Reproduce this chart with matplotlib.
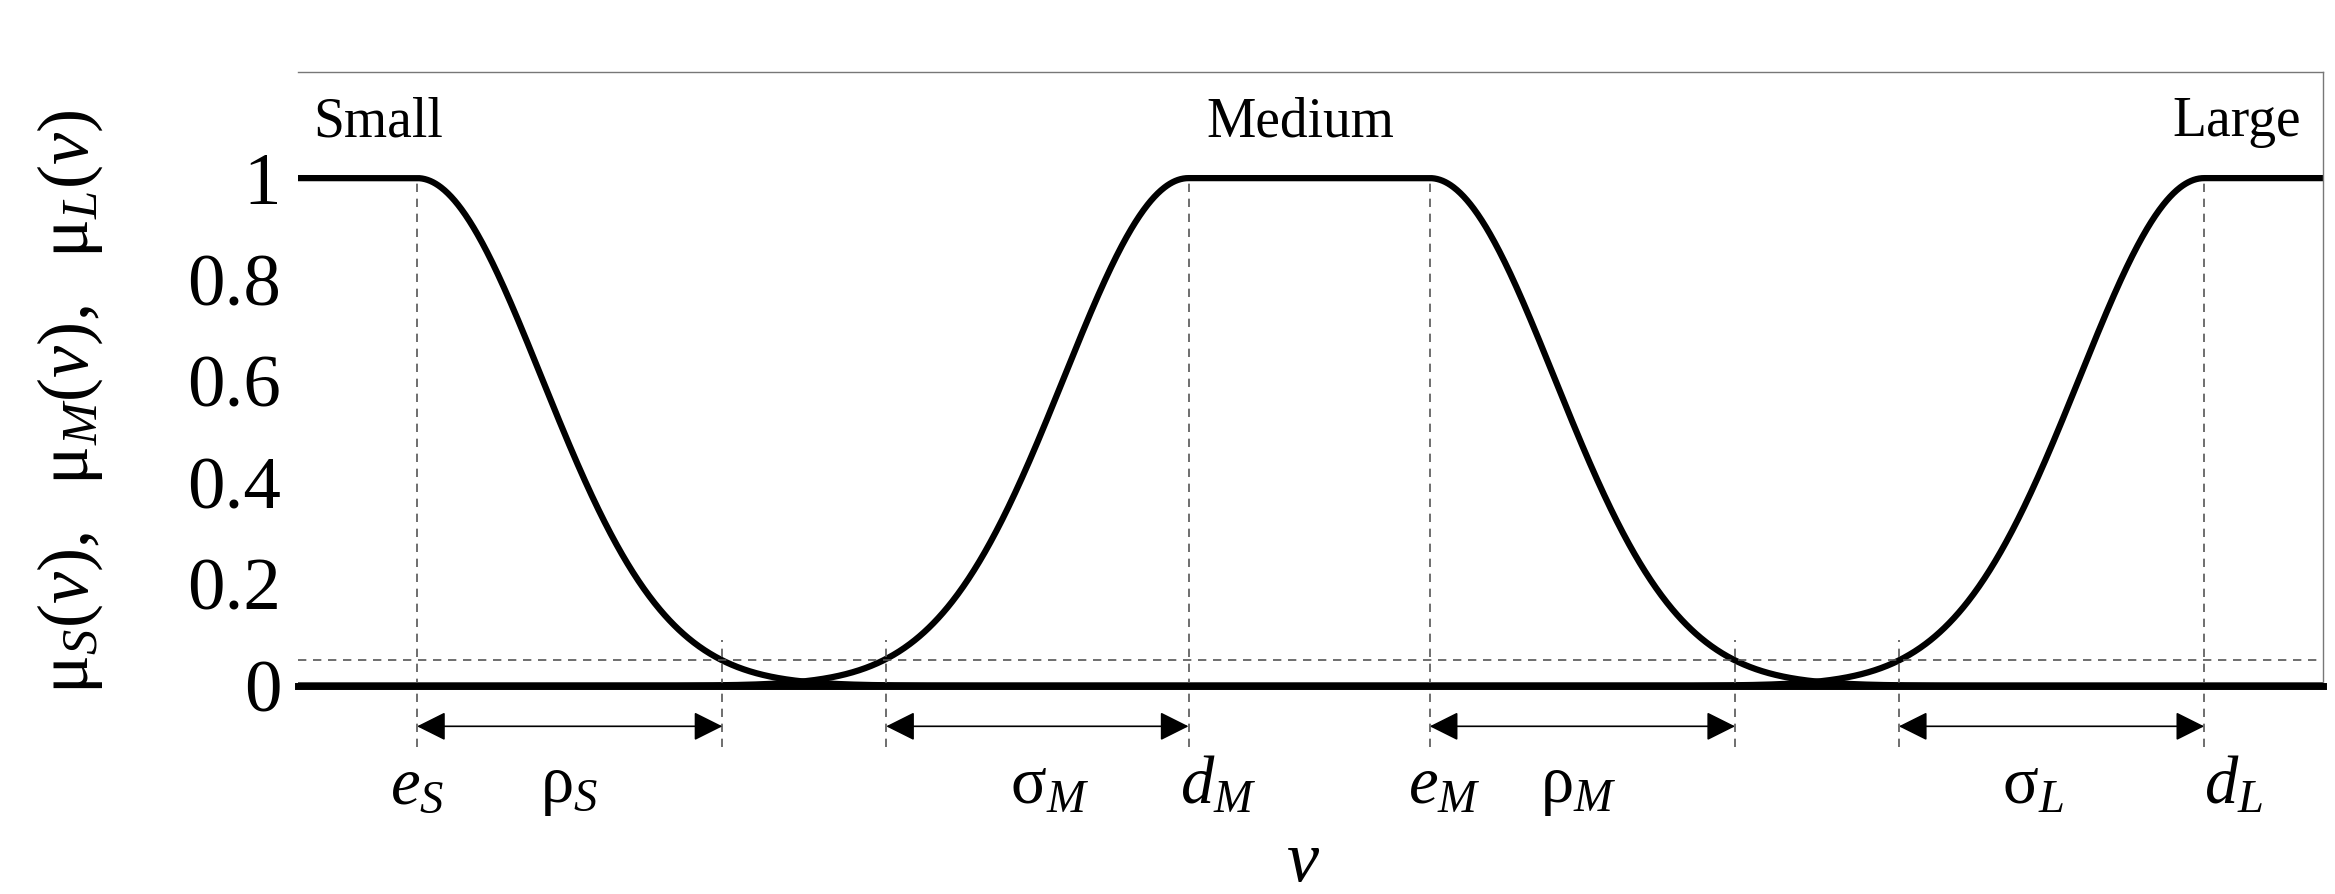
import numpy as np
import matplotlib
matplotlib.use("Agg")
import matplotlib.pyplot as plt

plt.rcParams['font.family'] = ['Liberation Serif', 'DejaVu Serif']
plt.rcParams['mathtext.fontset'] = 'custom'
plt.rcParams['mathtext.rm'] = 'Liberation Serif'
plt.rcParams['mathtext.it'] = 'Liberation Serif:italic'

# parameters (x in arbitrary units 0..1360)
e_S, d_M, e_M, d_L = 80, 598, 760, 1280
rho_S_end, sigma_M_start, rho_M_end, sigma_L_start = 285, 395, 965, 1075
spread = 83.7
threshold = 0.05
yticks = [0, 0.2, 0.4, 0.6, 0.8, 1]
yticklabels = ['0', '0.2', '0.4', '0.6', '0.8', '1']
names = ['Small', 'Medium', 'Large']

x = np.linspace(0, 1360, 3000)
def g(x, c):
    return np.exp(-(x - c) ** 2 / (2 * spread ** 2))
mu_S = np.where(x <= e_S, 1.0, g(x, e_S))
mu_M = np.where(x < d_M, g(x, d_M), np.where(x <= e_M, 1.0, g(x, e_M)))
mu_L = np.where(x >= d_L, 1.0, g(x, d_L))

fig = plt.figure(figsize=(23.35, 8.94), dpi=100)
ax = fig.add_axes([0.1276, 0.233, 0.995 - 0.1276, 0.92 - 0.233])
for m in (mu_S, mu_M, mu_L):
    ax.plot(x, m, color='black', lw=4.5, solid_capstyle='butt')
ax.set_xlim(0, 1360)
ax.set_ylim(0, 1.21)
for s in ['top', 'right']:
    ax.spines[s].set_color('#777777')
    ax.spines[s].set_linewidth(1)
ax.spines['left'].set_visible(False)
ax.spines['bottom'].set_linewidth(5)
ax.set_xticks([])
ax.set_yticks(yticks)
ax.set_yticklabels(yticklabels, fontsize=54)
ax.tick_params(axis='y', length=0, pad=12)

ax.axhline(threshold, color='#555555', lw=1.2, ls=(0, (5, 4)))
for xv in [e_S, d_M, e_M, d_L]:
    ax.plot([xv, xv], [-0.12, 1], color='#555555', lw=1.2, ls=(0, (5, 4)), clip_on=False)
for xv in [rho_S_end, sigma_M_start, rho_M_end, sigma_L_start]:
    ax.plot([xv, xv], [-0.12, 0.09], color='#555555', lw=1.2, ls=(0, (5, 4)), clip_on=False)

ya = -0.08
for a, b in [(e_S, rho_S_end), (sigma_M_start, d_M), (e_M, rho_M_end), (sigma_L_start, d_L)]:
    ax.annotate('', xy=(a, ya), xytext=(b, ya), annotation_clip=False,
                arrowprops=dict(arrowstyle='<|-|>', color='black', lw=1.2, mutation_scale=45,
                                shrinkA=0, shrinkB=0))

fs = 48
yl = -0.2
ax.text(e_S, yl, r'$e_S$', fontsize=fs, ha='center', va='center', clip_on=False)
ax.text(182, yl, r'$\mathrm{\rho}_S$', fontsize=fs, ha='center', va='center')
ax.text(505, yl, r'$\mathrm{\sigma}_M$', fontsize=fs, ha='center', va='center')
ax.text(d_M + 20, yl, r'$d_M$', fontsize=fs, ha='center', va='center')
ax.text(e_M + 10, yl, r'$e_M$', fontsize=fs, ha='center', va='center')
ax.text(860, yl, r'$\mathrm{\rho}_M$', fontsize=fs, ha='center', va='center')
ax.text(1165, yl, r'$\mathrm{\sigma}_L$', fontsize=fs, ha='center', va='center')
ax.text(d_L + 20, yl, r'$d_L$', fontsize=fs, ha='center', va='center')
ax.text(675, -0.35, r'$v$', fontsize=52, ha='center', va='center')

ax.text(10, 1.11, names[0], fontsize=40, ha='left', va='center')
ax.text(673, 1.11, names[1], fontsize=40, ha='center', va='center')
ax.text(1345, 1.11, names[2], fontsize=40, ha='right', va='center')

fig.text(0.03, 0.55, r'$\mathrm{\mu}_S(v),\ \ \mathrm{\mu}_M(v),\ \ \mathrm{\mu}_L(v)$',
         fontsize=52, rotation=90, ha='center', va='center')

fig.savefig('out.png', dpi=100)
